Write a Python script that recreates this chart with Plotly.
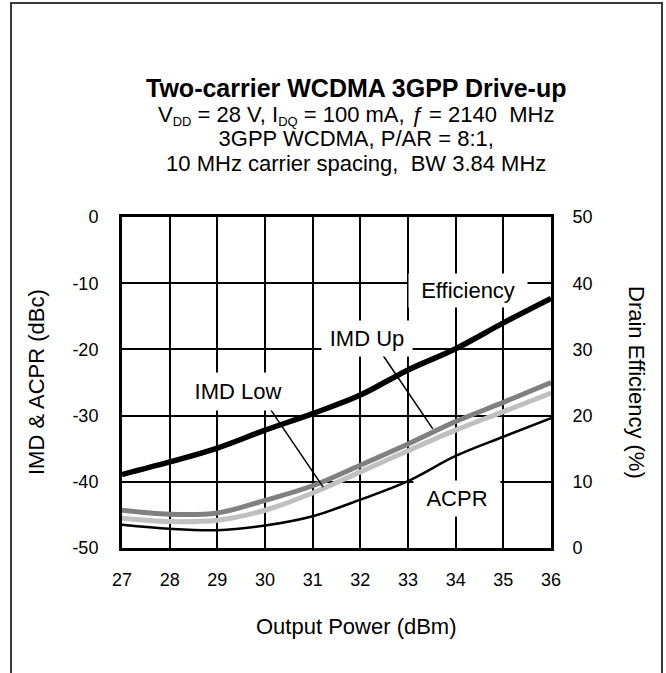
import plotly.graph_objects as go

# ---- data ----
pout = [27, 28, 29, 30, 31, 32, 33, 34, 35, 36]
efficiency = [11.1, 13.0, 15.1, 17.8, 20.3, 23.1, 26.9, 30.1, 34.0, 37.7]   # %, right axis
imd_up = [-44.3, -44.9, -44.7, -42.8, -40.6, -37.5, -34.3, -30.9, -28.0, -25.0]
imd_low = [-45.5, -46.0, -45.8, -44.3, -41.7, -38.5, -35.3, -32.2, -29.4, -26.6]
acpr = [-46.5, -47.1, -47.3, -46.6, -45.2, -42.7, -39.9, -36.1, -33.2, -30.4]

x_ticks = [27, 28, 29, 30, 31, 32, 33, 34, 35, 36]
left_ticks = [0, -10, -20, -30, -40, -50]
right_ticks = [0, 10, 20, 30, 40, 50]

FONT = "Arial, Liberation Sans, sans-serif"
W, H = 666, 673
L, R, T, B = 122, 551, 217, 548  # plot-area pixel box

def px(xp):
    return (xp - L) / (R - L)

def py(yp):
    return (B - yp) / (B - T)

fig = go.Figure()
fig.add_trace(go.Scatter(x=pout, y=acpr, mode="lines", line=dict(color="black", width=2.5, shape="spline"), name="ACPR"))
fig.add_trace(go.Scatter(x=pout, y=imd_low, mode="lines", line=dict(color="#c0c0c0", width=5, shape="spline"), name="IMD Low"))
fig.add_trace(go.Scatter(x=pout, y=imd_up, mode="lines", line=dict(color="#808080", width=5, shape="spline"), name="IMD Up"))
fig.add_trace(go.Scatter(x=pout, y=efficiency, mode="lines", yaxis="y2", line=dict(color="black", width=5.5, shape="spline"), name="Efficiency"))

ann = []
def text_ann(xp, yp, txt, size=20, angle=0, yanchor="middle"):
    ann.append(dict(x=px(xp), y=py(yp), xref="paper", yref="paper", text=txt,
                    showarrow=False, textangle=angle, font=dict(family=FONT, size=size, color="black"),
                    xanchor="center", yanchor=yanchor, align="center"))

title_block = (
    "<span style='font-size:25px'><b>Two-carrier WCDMA 3GPP Drive-up</b></span><br>"
    "<span style='font-size:22px'>V<sub><span style='font-size:13px'>DD</span></sub> = 28 V, "
    "I<sub><span style='font-size:13px'>DQ</span></sub> = 100 mA, <i>ƒ</i> = 2140  MHz</span><br>"
    "<span style='font-size:22px'>3GPP WCDMA, P/AR = 8:1,</span><br>"
    "<span style='font-size:22px'>10 MHz carrier spacing,  BW 3.84 MHz</span>"
)
text_ann(356, 125, title_block, size=19)
text_ann(356, 626, "Output Power (dBm)", size=22)
text_ann(36, 382, "IMD &amp; ACPR (dBc)", size=22, angle=-90)
text_ann(637, 382, "Drain Efficiency (%)", size=22, angle=90)

# labels on the chart with white boxes
def box_label(xd, yd, txt, w, h):
    ann.append(dict(x=xd, y=yd, xref="x", yref="y", text=txt, showarrow=False,
                    font=dict(family=FONT, size=22, color="black"), bgcolor="white",
                    width=w, height=h, xanchor="center", yanchor="middle"))

box_label(34.26, -11.1, "Efficiency", 116, 31)
box_label(32.14, -18.4, "IMD Up", 88, 33)
box_label(29.43, -26.3, "IMD Low", 106, 35)
box_label(34.03, -42.5, "ACPR", 84, 33)

shapes = [
    dict(type="line", xref="x", yref="y", x0=32.41, y0=-20.2, x1=33.52, y1=-32.0, line=dict(color="black", width=1.5)),
    dict(type="line", xref="x", yref="y", x0=30.10, y0=-28.9, x1=31.22, y1=-40.8, line=dict(color="black", width=1.5)),
    dict(type="rect", xref="paper", yref="paper", x0=px(11), y0=py(720), x1=px(662), y1=py(3),
         line=dict(color="#3a3a3a", width=2), fillcolor="rgba(0,0,0,0)", layer="below"),
]

fig.update_layout(
    width=W, height=H,
    margin=dict(l=L, r=W - R, t=T, b=H - B, pad=0),
    paper_bgcolor="white", plot_bgcolor="white",
    showlegend=False,
    font=dict(family=FONT, size=18, color="black"),
    xaxis=dict(range=[27, 36], tickvals=x_ticks, ticktext=[str(v) for v in x_ticks],
               showgrid=True, gridcolor="black", gridwidth=2, zeroline=False,
               showline=True, linecolor="black", linewidth=3, mirror=True,
               ticks="", ticklabelstandoff=13, tickfont=dict(size=18)),
    yaxis=dict(range=[-50, 0], tickvals=left_ticks, ticktext=[str(v) for v in left_ticks],
               showgrid=True, gridcolor="black", gridwidth=2, zeroline=False,
               showline=True, linecolor="black", linewidth=3, mirror=True,
               ticks="", ticklabelstandoff=17, tickfont=dict(size=18)),
    yaxis2=dict(range=[0, 50], tickvals=right_ticks, ticktext=[str(v) for v in right_ticks],
                overlaying="y", side="right", showgrid=False, zeroline=False,
                showline=True, linecolor="black", linewidth=3,
                ticks="", ticklabelstandoff=15, tickfont=dict(size=18)),
    annotations=ann,
    shapes=shapes,
)

fig.write_html("out.html", config={"displayModeBar": False},
               post_script="document.body.style.margin='0';document.body.style.overflow='hidden';")
